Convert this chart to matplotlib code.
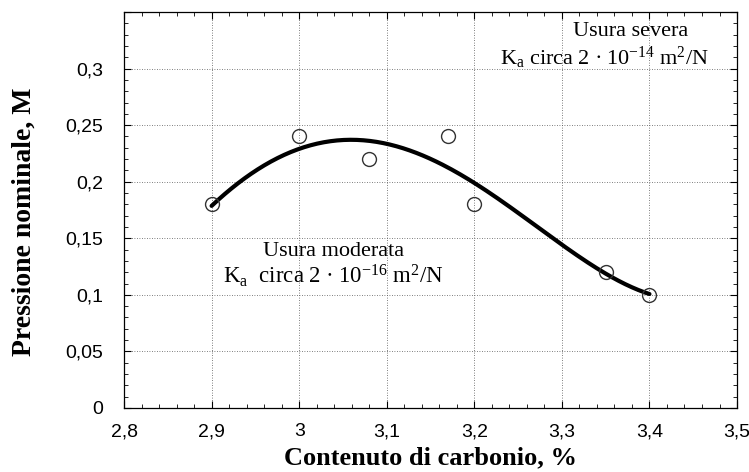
import numpy as np
import matplotlib
matplotlib.use("Agg")
import matplotlib.pyplot as plt
from matplotlib.ticker import MultipleLocator, FuncFormatter

# punti sperimentali
carbonio = [2.9, 3.0, 3.08, 3.17, 3.2, 3.35, 3.4]
pressione = [0.18, 0.24, 0.22, 0.24, 0.18, 0.12, 0.10]

# curva di tendenza
curva_x = [2.9, 2.95, 3.0, 3.05, 3.1, 3.15, 3.2, 3.25, 3.3, 3.35, 3.4]
curva_y = [0.18, 0.206, 0.231, 0.237, 0.235, 0.22, 0.197, 0.172, 0.145, 0.12, 0.10]

plt.rcParams['mathtext.fontset'] = 'custom'
plt.rcParams['mathtext.rm'] = 'Liberation Serif'
plt.rcParams['mathtext.it'] = 'Liberation Serif:italic'

fig = plt.figure(figsize=(7.49, 4.72), dpi=100)
ax = fig.add_axes([0.1656, 0.1356, 0.8184, 0.839])

# curva liscia: polinomio sui punti letti
coef = np.polyfit(curva_x, curva_y, 4)
xs = np.linspace(curva_x[0], curva_x[-1], 200)
ax.plot(xs, np.polyval(coef, xs), color='black', lw=3.0, zorder=3,
        solid_capstyle='round')

ax.plot(carbonio, pressione, 'o', mfc='none', mec='#333333', ms=10, mew=1.0, zorder=4)

ax.set_xlim(2.8, 3.5)
ax.set_ylim(0, 0.35)
ax.xaxis.set_major_locator(MultipleLocator(0.1))
ax.xaxis.set_minor_locator(MultipleLocator(0.02))
ax.yaxis.set_major_locator(MultipleLocator(0.05))
ax.yaxis.set_minor_locator(MultipleLocator(0.01))

def virgola(v, pos):
    s = ('%.2f' % v).rstrip('0').rstrip('.')
    return s.replace('.', ',')

ax.xaxis.set_major_formatter(FuncFormatter(virgola))
ax.yaxis.set_major_formatter(FuncFormatter(lambda v, p: '' if v > 0.34 else virgola(v, p)))

ax.tick_params(which='both', direction='in', top=True, right=True, color='black')
ax.tick_params(which='major', length=5, width=0.8, labelsize=14)
ax.tick_params(axis='x', which='major', pad=11)
ax.tick_params(axis='y', which='major', pad=15)
ax.tick_params(which='minor', length=3, width=0.6)
for lab in ax.get_xticklabels() + ax.get_yticklabels():
    lab.set_fontfamily('Liberation Sans')

ax.grid(True, which='major', color='#555555', ls=(0, (1, 2)), lw=0.6)
for s in ax.spines.values():
    s.set_linewidth(0.9)

ax.set_xlabel('Contenuto di carbonio, %', fontsize=19, fontweight='bold',
              fontfamily='Liberation Serif', labelpad=4)
ax.set_ylabel('Pressione nominale, M', fontsize=20, fontweight='bold',
              fontfamily='Liberation Serif')
ax.yaxis.set_label_coords(-0.142, 0.47)

ax.text(3.379, 0.333, 'Usura severa', fontsize=16, fontfamily='Liberation Serif',
        ha='center', va='center')
ax.text(3.349, 0.309, r'K$_{\mathrm{a}}$ circa 2$\,\bullet\,$10$^{-14}$ m$^{2}$/N', fontsize=16,
        fontfamily='Liberation Serif', ha='center', va='center')
ax.text(3.039, 0.1386, 'Usura moderata', fontsize=16, fontfamily='Liberation Serif',
        ha='center', va='center')
ax.text(3.039, 0.117, r'K$_{\mathrm{a}}$  circa 2$\,\bullet\,$10$^{-16}$ m$^{2}$/N', fontsize=16.5,
        fontfamily='Liberation Serif', ha='center', va='center')

fig.savefig('out.png', dpi=100)
